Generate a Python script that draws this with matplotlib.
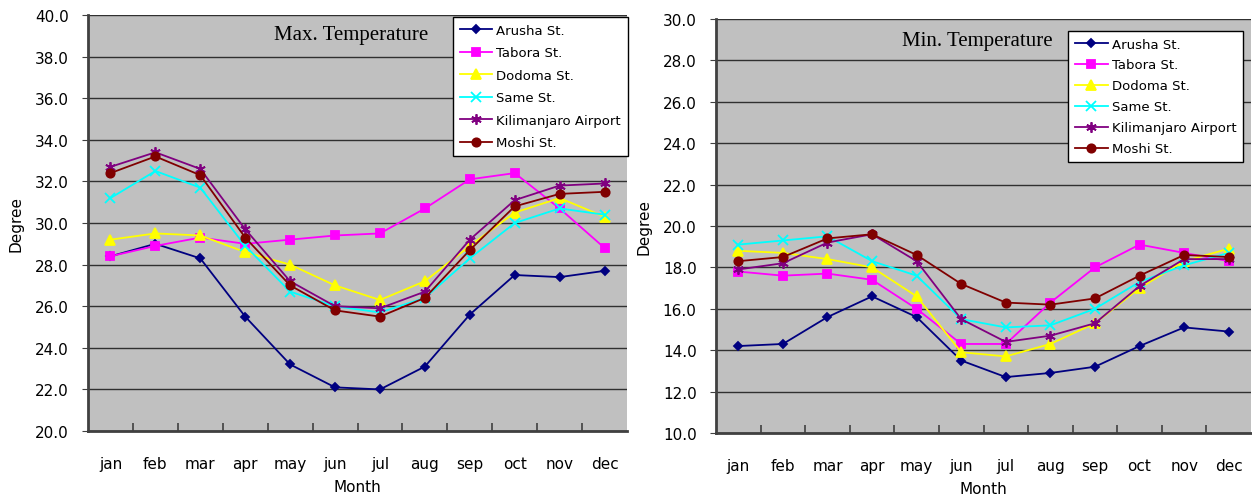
import matplotlib
matplotlib.use("Agg")
import matplotlib.pyplot as plt
import numpy as np

months = ["jan", "feb", "mar", "apr", "may", "jun",
          "jul", "aug", "sep", "oct", "nov", "dec"]
stations = ["Arusha St.", "Tabora St.", "Dodoma St.", "Same St.",
            "Kilimanjaro Airport", "Moshi St."]

# monthly mean maximum temperature
max_arusha = [28.4, 29.0, 28.3, 25.5, 23.2, 22.1, 22.0, 23.1, 25.6, 27.5, 27.4, 27.7]
max_tabora = [28.4, 28.9, 29.3, 29.0, 29.2, 29.4, 29.5, 30.7, 32.1, 32.4, 30.7, 28.8]
max_dodoma = [29.2, 29.5, 29.4, 28.6, 28.0, 27.0, 26.3, 27.2, 28.9, 30.5, 31.2, 30.3]
max_same = [31.2, 32.5, 31.7, 28.9, 26.7, 26.0, 25.7, 26.4, 28.3, 30.0, 30.7, 30.4]
max_kilimanjaro = [32.7, 33.4, 32.6, 29.7, 27.2, 26.0, 25.9, 26.7, 29.2, 31.1, 31.8, 31.9]
max_moshi = [32.4, 33.2, 32.3, 29.3, 27.0, 25.8, 25.5, 26.4, 28.7, 30.8, 31.4, 31.5]

# monthly mean minimum temperature
min_arusha = [14.2, 14.3, 15.6, 16.6, 15.6, 13.5, 12.7, 12.9, 13.2, 14.2, 15.1, 14.9]
min_tabora = [17.8, 17.6, 17.7, 17.4, 16.0, 14.3, 14.3, 16.3, 18.0, 19.1, 18.7, 18.3]
min_dodoma = [18.8, 18.7, 18.4, 18.0, 16.6, 13.9, 13.7, 14.3, 15.3, 17.0, 18.3, 18.9]
min_same = [19.1, 19.3, 19.5, 18.3, 17.6, 15.5, 15.1, 15.2, 16.0, 17.3, 18.1, 18.7]
min_kilimanjaro = [17.9, 18.2, 19.2, 19.6, 18.3, 15.5, 14.4, 14.7, 15.3, 17.1, 18.4, 18.4]
min_moshi = [18.3, 18.5, 19.4, 19.6, 18.6, 17.2, 16.3, 16.2, 16.5, 17.6, 18.6, 18.5]

max_series = [max_arusha, max_tabora, max_dodoma, max_same, max_kilimanjaro, max_moshi]
min_series = [min_arusha, min_tabora, min_dodoma, min_same, min_kilimanjaro, min_moshi]

colors = ["#000080", "#FF00FF", "#FFFF00", "#00FFFF", "#800080", "#800000"]
markers = ["D", "s", "^", "x", (6, 2, 0), "o"]
msizes = [4.5, 5.5, 6.5, 6.5, 7.5, 6]

fig = plt.figure(figsize=(12.52, 5.02), dpi=100)
fig.patch.set_facecolor("white")


def draw_panel(ax, series, title, ylo, yhi, title_pos, leg_pos, leg_space):
    ax.set_facecolor("#C0C0C0")
    x = np.arange(len(months))
    for vals, name, c, m, ms in zip(series, stations, colors, markers, msizes):
        ax.plot(x, vals, color=c, marker=m, markersize=ms, linewidth=1.3,
                markeredgewidth=1.3, label=name, zorder=3)
    ax.set_xlim(-0.5, 11.5)
    ax.set_ylim(ylo, yhi)
    ticks = np.arange(ylo, yhi + 0.1, 2.0)
    ax.set_yticks(ticks)
    ax.set_yticklabels([f"{v:.1f}" for v in ticks])
    ax.yaxis.grid(True, color="#303030", linewidth=1.0, zorder=1)
    ax.set_axisbelow(True)
    ax.set_xticks(x)
    ax.set_xticklabels(months)
    ax.set_xticks(np.arange(0.5, 11, 1.0), minor=True)
    ax.tick_params(axis="x", which="major", length=0, pad=18, labelsize=11)
    ax.tick_params(axis="x", which="minor", length=6, direction="in",
                   width=1.2, color="#404040")
    ax.tick_params(axis="y", length=4, direction="out", pad=10, labelsize=11,
                   color="#404040")
    for s in ["top", "right"]:
        ax.spines[s].set_visible(False)
    for s in ["left", "bottom"]:
        ax.spines[s].set_color("#404040")
        ax.spines[s].set_linewidth(2.0)
    ax.set_xlabel("Month", fontsize=11, labelpad=6)
    ax.set_ylabel("Degree", fontsize=11, labelpad=8)
    ax.text(title_pos[0], title_pos[1], title, transform=ax.transAxes,
            family="Liberation Serif", fontsize=15, ha="center", va="center")
    leg = ax.legend(loc="upper left", bbox_to_anchor=leg_pos, borderaxespad=0,
                    fontsize=9.5, fancybox=False, framealpha=1, edgecolor="black",
                    handlelength=2.5, labelspacing=leg_space, borderpad=0.5,
                    handletextpad=0.3)
    leg.get_frame().set_linewidth(1.0)
    leg.set_zorder(5)


ax1 = fig.add_axes([0.0703, 0.1394, 0.4305, 0.8287])
draw_panel(ax1, max_series, "Max. Temperature", 20.0, 40.0,
           (0.488, 0.952), (0.677, 0.995), 0.72)

ax2 = fig.add_axes([0.5719, 0.1355, 0.4273, 0.8247])
draw_panel(ax2, min_series, "Min. Temperature", 10.0, 30.0,
           (0.488, 0.949), (0.658, 0.971), 0.6)

fig.savefig("out.png", dpi=100)
